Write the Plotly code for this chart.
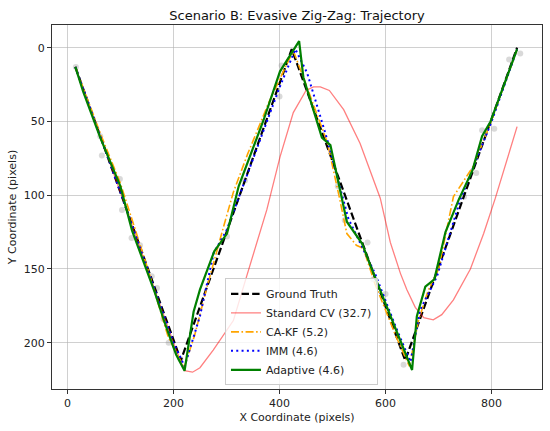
import plotly.graph_objects as go

# Measurements (noisy observations)
meas_x = [16, 62, 65, 99, 103, 121, 137, 159, 169, 181, 191, 213, 301, 335, 400, 404,
          510, 523, 566, 577, 600, 634, 748, 771, 782, 805, 833, 854]
meas_y = [13, 60, 73, 89, 110, 129, 134, 155, 163, 184, 200, 211, 128, 90, 33, 12,
          94, 117, 132, 157, 167, 215, 101, 85, 56, 55, 8, 4]

# Ground truth
gt_x = [15, 214, 423, 637, 848]
gt_y = [13, 212, 1, 212, 0]

# Standard CV
cv_x = [15, 100, 200, 221, 236, 250, 275, 313, 338, 376, 401, 426, 450, 464, 477, 494,
        521, 552, 590, 609, 628, 640, 656, 672, 690, 706, 728, 760, 785, 807, 848]
cv_y = [13, 98, 200, 219, 220, 217, 205, 185, 155, 110, 74, 44, 29, 26.5, 26.5, 29,
        42, 65, 102, 132, 153, 164, 176, 183, 184.5, 181, 171, 150, 126, 102, 53.5]

# CA-KF
ca_x = [15, 62, 100, 150, 190, 220, 240, 265, 294, 313, 340, 380, 410, 426, 450, 490,
        512, 527, 545, 558, 580, 620, 645, 662, 680, 700, 728, 766, 800, 848]
ca_y = [13, 58, 92, 148, 196, 217, 195, 160, 122, 98, 72, 37, 14, 2, 25, 64,
        100, 126, 134, 136, 160, 196, 216, 185, 165, 150, 101, 80, 49, 1]

# IMM
imm_x = [15, 100, 200, 221, 250, 276, 300, 350, 400, 430, 452, 489, 530, 580, 620, 647,
         665, 697, 740, 800, 848]
imm_y = [13, 98, 200, 216, 182, 139, 124, 75, 27, 1, 17, 61, 116, 153, 190, 213,
         178, 155, 104, 50, 1]

# Adaptive
ad_x = [15, 30, 62, 100, 122, 145, 165, 185, 205, 221, 238, 250, 268, 277, 301, 323,
        370, 401, 437, 445, 480, 496, 527, 556, 576, 650, 659, 675, 692, 713, 738, 764,
        782, 798, 848]
ad_y = [13, 30, 61, 94, 124, 146, 166, 188, 208, 219, 179, 164, 146, 138, 126, 94,
        49, 16, -4.5, 20, 61, 66, 118, 133, 152, 218.5, 182, 162, 157, 125, 103, 83,
        60, 50, 1]

x_ticks = [0, 200, 400, 600, 800]
y_ticks = [0, 50, 100, 150, 200]

FONT = "DejaVu Sans, sans-serif"

fig = go.Figure()
fig.add_trace(go.Scatter(x=meas_x, y=meas_y, mode="markers", showlegend=False,
                         marker=dict(size=6, color="rgba(128,128,128,0.3)", line=dict(width=0))))
fig.add_trace(go.Scatter(x=gt_x, y=gt_y, mode="lines", name="Ground Truth",
                         line=dict(color="black", width=2.2, dash="7.4px,3.2px")))
fig.add_trace(go.Scatter(x=cv_x, y=cv_y, mode="lines", name="Standard CV (32.7)",
                         line=dict(color="rgba(255,0,0,0.5)", width=1.3)))
fig.add_trace(go.Scatter(x=ca_x, y=ca_y, mode="lines", name="CA-KF (5.2)",
                         line=dict(color="orange", width=1.6, dash="8px,2.5px,1.6px,2.5px")))
fig.add_trace(go.Scatter(x=imm_x, y=imm_y, mode="lines", name="IMM (4.6)",
                         line=dict(color="blue", width=2, dash="2px,3.3px")))
fig.add_trace(go.Scatter(x=ad_x, y=ad_y, mode="lines", name="Adaptive (4.6)",
                         line=dict(color="green", width=2.2)))

axis_common = dict(showline=True, linecolor="#333333", linewidth=1, mirror=True,
                   ticks="outside", ticklen=4, tickcolor="#333333", automargin=True,
                   showgrid=True, gridcolor="rgba(176,176,176,0.6)", gridwidth=1,
                   zeroline=False, tickfont=dict(family=FONT, size=11, color="#222222"))

fig.update_xaxes(range=[-29, 895], tickvals=x_ticks,
                 title=dict(text="X Coordinate (pixels)", standoff=4,
                            font=dict(family=FONT, size=11, color="#222222")),
                 **axis_common)
fig.update_yaxes(range=[231.4, -15.4], tickvals=y_ticks,
                 title=dict(text="Y Coordinate (pixels)", standoff=4,
                            font=dict(family=FONT, size=11, color="#222222")),
                 **axis_common)

fig.update_layout(
    width=550, height=431,
    margin=dict(l=52, r=8, t=25, b=42),
    paper_bgcolor="white", plot_bgcolor="white",
    title=dict(text="Scenario B: Evasive Zig-Zag: Trajectory", x=0.5, xref="paper", xanchor="center",
               y=1 - 15.5 / 431, yref="container", yanchor="middle",
               font=dict(family=FONT, size=13, color="#111111")),
    legend=dict(x=0.353, y=0.01, xanchor="left", yanchor="bottom",
                bgcolor="rgba(255,255,255,0.8)", bordercolor="#cccccc", borderwidth=1,
                font=dict(family=FONT, size=11, color="#222222"), tracegroupgap=0,
                itemwidth=30),
    showlegend=True,
)

fig.write_html("out.html", config={"displayModeBar": False},
               post_script="document.body.style.margin='0';document.body.style.padding='0';document.body.style.overflow='hidden';")
